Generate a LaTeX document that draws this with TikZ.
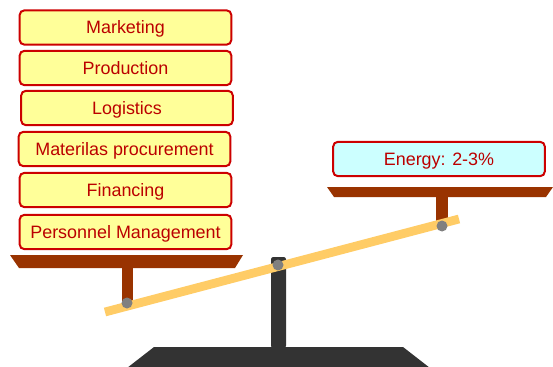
\documentclass[tikz,border=0pt]{standalone}
\usepackage{fontspec}
\setmainfont{Liberation Sans}
\usetikzlibrary{positioning}

\definecolor{itemfill}{HTML}{FFFF99}
\definecolor{itemline}{HTML}{CC0000}
\definecolor{itemtext}{HTML}{BB0000}
\definecolor{energyfill}{HTML}{CCFFFF}
\definecolor{panbrown}{HTML}{993300}
\definecolor{beamgold}{HTML}{FFCC66}
\definecolor{standgray}{HTML}{333333}
\definecolor{pingray}{HTML}{808080}

\tikzset{
  item/.style={draw=itemline, fill=itemfill, line width=1.7pt, rounded corners=4pt,
    minimum width=6.35cm, minimum height=1.03cm, inner sep=0pt,
    text height=1.08em, text depth=0pt,
    text=itemtext, font=\fontsize{15.3}{17}\selectfont},
  pin/.style={fill=pingray}
}

\begin{document}
\begin{tikzpicture}[x=0.03cm, y=-0.03cm]
\useasboundingbox (0,0) rectangle (553,367);
% stand
\fill [standgray] (154,347) -- (403,347) -- (430,368) -- (127,368) -- cycle;
\fill [standgray, rounded corners=2pt] (271,348) -- (271,257) -- (286,257) -- (286,348) -- cycle;
% pans with their stems
\fill [panbrown] (10,255) -- (243,255) -- (235,268) -- (19,268) -- cycle;
\fill [panbrown] (122,266) rectangle (133,303);
\fill [panbrown] (327,187) -- (553,187) -- (546,197) -- (334,197) -- cycle;
\fill [panbrown] (436,187) rectangle (448,226);
% beam
\draw [beamgold, line width=7.5pt] (105,312) -- (459,219);
\fill [pin] (127,303) circle (5.5);
\fill [pin] (278,265) circle (5.5);
\fill [pin] (442,226) circle (5.5);
% items on the left pan
\node at (125.5,27.5) [item] (marketing) {Marketing};
\node at (125.5,68) [item] (production) {Production};
\node at (127,108) [item] (logistics) {Logistics};
\node at (124.5,149) [item] (procurement) {Materilas procurement};
\node at (125.5,190) [item] (financing) {Financing};
\node at (125.5,232) [item] (personnel) {Personnel Management};
% item on the right pan
\node at (439,159) [item, fill=energyfill] (energy) {Energy: 2-3\%};
\end{tikzpicture}
\end{document}
